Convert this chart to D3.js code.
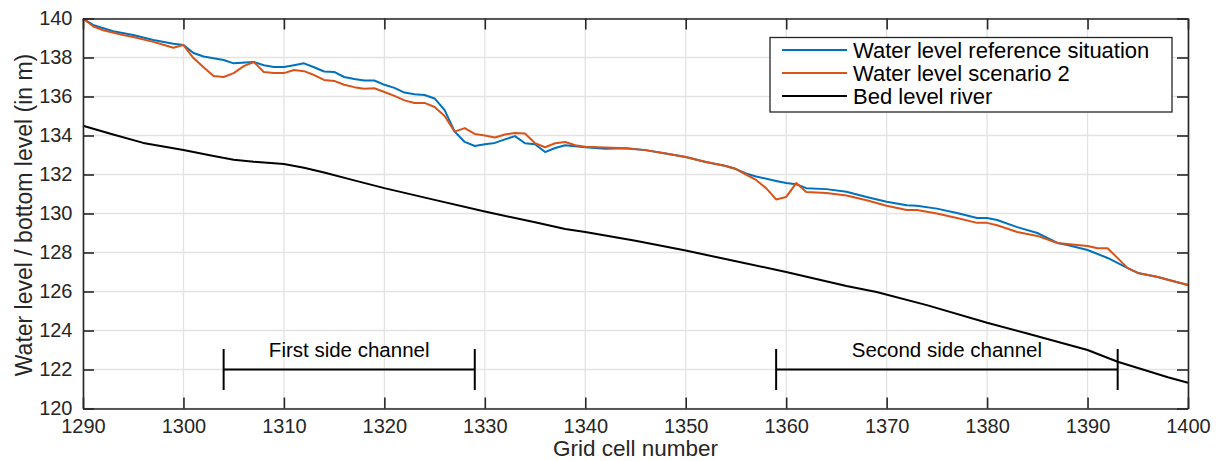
<!DOCTYPE html>
<html>
<head>
<meta charset="utf-8">
<script src="https://cdn.jsdelivr.net/npm/d3@7/dist/d3.min.js"></script>
<style>
  html, body { margin: 0; padding: 0; background: #fff; }
  svg { display: block; font-family: "Liberation Sans", Arial, Helvetica, sans-serif; }
</style>
</head>
<body>
<svg id="chart" width="1220" height="461"></svg>
<script>
// Grid cells and water levels along the river reach
const refX = [1290,1291,1293,1295,1297,1299,1300,1301,1302,1304,1305,1307,1308,1309,1310,1311,1312,1313,1314,1315,1316,1317,1318,1319,1320,1321,1322,1323,1324,1325,1326,1327,1328,1329,1330,1331,1332,1333,1334,1335,1336,1337,1338,1339,1340,1342,1344,1346,1348,1350,1352,1354,1355,1356,1357,1359,1360,1361,1362,1364,1366,1368,1370,1372,1373,1375,1377,1379,1380,1381,1383,1385,1387,1388,1390,1392,1394,1395,1397,1398,1400];
const refY = [140.0,139.67,139.35,139.15,138.9,138.7,138.64,138.23,138.05,137.87,137.7,137.77,137.6,137.51,137.51,137.6,137.7,137.5,137.28,137.26,137.0,136.9,136.82,136.82,136.6,136.44,136.2,136.12,136.08,135.9,135.3,134.2,133.67,133.46,133.55,133.62,133.8,133.97,133.6,133.55,133.15,133.36,133.5,133.45,133.4,133.32,133.35,133.25,133.08,132.9,132.64,132.44,132.28,132.05,131.9,131.67,131.56,131.5,131.3,131.25,131.12,130.85,130.6,130.42,130.4,130.25,130.03,129.77,129.77,129.67,129.3,129.0,128.49,128.38,128.13,127.72,127.2,126.95,126.74,126.6,126.33];

const scenX = [1290,1291,1292,1294,1295,1297,1298,1299,1300,1301,1302,1303,1304,1305,1306,1307,1308,1309,1310,1311,1312,1313,1314,1315,1316,1317,1318,1319,1320,1321,1322,1323,1324,1325,1326,1327,1328,1329,1330,1331,1332,1333,1334,1335,1336,1337,1338,1339,1340,1342,1344,1346,1348,1350,1352,1354,1355,1356,1357,1358,1359,1360,1361,1362,1364,1366,1368,1370,1372,1373,1375,1377,1379,1380,1381,1383,1385,1387,1388,1390,1391,1392,1394,1395,1397,1398,1400];
const scenY = [140.0,139.6,139.4,139.15,139.05,138.8,138.65,138.5,138.64,137.97,137.5,137.05,137.0,137.2,137.56,137.77,137.26,137.2,137.2,137.36,137.3,137.1,136.85,136.8,136.6,136.48,136.4,136.42,136.23,136.03,135.8,135.67,135.67,135.46,135.0,134.2,134.38,134.08,134.0,133.9,134.05,134.13,134.1,133.6,133.4,133.6,133.67,133.5,133.42,133.38,133.35,133.25,133.08,132.9,132.64,132.44,132.28,132.0,131.72,131.3,130.72,130.85,131.56,131.1,131.05,130.92,130.68,130.4,130.18,130.18,130.0,129.77,129.52,129.52,129.4,129.05,128.85,128.49,128.44,128.33,128.22,128.22,127.2,126.95,126.74,126.6,126.33];

const bedX = [1290,1293,1296,1300,1303,1305,1307,1310,1312,1314,1317,1320,1325,1330,1335,1338,1340,1345,1350,1355,1360,1366,1369,1374,1380,1384,1390,1393,1398,1400];
const bedY = [134.5,134.05,133.62,133.26,132.95,132.76,132.65,132.54,132.35,132.1,131.7,131.3,130.7,130.1,129.55,129.2,129.05,128.6,128.1,127.55,127.0,126.28,125.97,125.3,124.4,123.85,123.0,122.4,121.6,121.32];

const seriesNames = ["Water level reference situation", "Water level scenario 2", "Bed level river"];
const seriesColors = ["#0072BD", "#D95319", "#000000"];

// Side channel extents (grid cells) and labels
const channelNames = ["First side channel", "Second side channel"];
const channelStart = [1304, 1359];
const channelEnd = [1329, 1393];
const channelLevel = 122;

const xTicks = d3.range(1290, 1401, 10);
const yTicks = d3.range(120, 141, 2);

const svg = d3.select("#chart");
const plotL = 83, plotR = 1188, plotT = 18.5, plotB = 408.5;
const x = d3.scaleLinear().domain([1290, 1400]).range([plotL, plotR]);
const y = d3.scaleLinear().domain([120, 140]).range([plotB, plotT]);
const axisColor = "#262626";

// grid
const grid = svg.append("g");
grid.selectAll(".gx").data(xTicks).join("line")
  .attr("x1", d => x(d)).attr("x2", d => x(d))
  .attr("y1", plotT).attr("y2", plotB)
  .attr("stroke", "#e3e3e3").attr("stroke-width", 1.3);
grid.selectAll(".gy").data(yTicks).join("line")
  .attr("x1", plotL).attr("x2", plotR)
  .attr("y1", d => y(d)).attr("y2", d => y(d))
  .attr("stroke", "#e3e3e3").attr("stroke-width", 1.3);

// data lines
const series = [[refX, refY], [scenX, scenY], [bedX, bedY]];
const line = d3.line().x(d => x(d[0])).y(d => y(d[1]));
svg.append("g").selectAll("path").data([2, 0, 1]).join("path")
  .attr("d", i => line(series[i][0].map((v, k) => [v, series[i][1][k]])))
  .attr("fill", "none")
  .attr("stroke", i => seriesColors[i])
  .attr("stroke-width", 2)
  .attr("stroke-linejoin", "round");

// side channel brackets
const br = svg.append("g").attr("stroke", "#000").attr("stroke-width", 2);
channelNames.forEach((name, i) => {
  br.append("line").attr("x1", x(channelStart[i])).attr("x2", x(channelEnd[i]))
    .attr("y1", y(channelLevel)).attr("y2", y(channelLevel));
  [channelStart[i], channelEnd[i]].forEach(v => {
    br.append("line").attr("x1", x(v)).attr("x2", x(v))
      .attr("y1", y(channelLevel + 1.05)).attr("y2", y(channelLevel - 1.05));
  });
  svg.append("text")
    .attr("x", x((channelStart[i] + channelEnd[i]) / 2))
    .attr("y", y(channelLevel) - 13)
    .attr("text-anchor", "middle")
    .attr("font-size", 20.5).attr("fill", "#000")
    .text(name);
});

// axes (boxed, ticks pointing inward)
const tickLen = 11;
const fmt = d3.format("d");
const xAxisB = d3.axisBottom(x).tickValues(xTicks).tickFormat(fmt).tickSize(-tickLen).tickSizeOuter(0).tickPadding(10.5);
const xAxisT = d3.axisTop(x).tickValues(xTicks).tickSize(-tickLen).tickSizeOuter(0).tickFormat("");
const yAxisL = d3.axisLeft(y).tickValues(yTicks).tickFormat(fmt).tickSize(-tickLen).tickSizeOuter(0).tickPadding(10.5);
const yAxisR = d3.axisRight(y).tickValues(yTicks).tickSize(-tickLen).tickSizeOuter(0).tickFormat("");

function styleAxis(g) {
  g.select(".domain").attr("stroke", axisColor).attr("stroke-width", 1.6);
  g.selectAll(".tick line").attr("stroke", axisColor).attr("stroke-width", 1.6);
  g.selectAll(".tick text").attr("fill", axisColor).attr("font-size", 20)
    .attr("font-family", "Liberation Sans, Arial, sans-serif");
}
svg.append("g").attr("transform", `translate(0,${plotB})`).call(xAxisB).call(styleAxis);
svg.append("g").attr("transform", `translate(0,${plotT})`).call(xAxisT).call(styleAxis);
svg.append("g").attr("transform", `translate(${plotL},0)`).call(yAxisL).call(styleAxis);
svg.append("g").attr("transform", `translate(${plotR},0)`).call(yAxisR).call(styleAxis);

// axis titles
svg.append("text")
  .attr("x", (plotL + plotR) / 2).attr("y", 456)
  .attr("text-anchor", "middle").attr("font-size", 22.5).attr("fill", axisColor)
  .text("Grid cell number");
svg.append("text")
  .attr("transform", `translate(31.5,${(plotT + plotB) / 2 + 1.5}) rotate(-90)`)
  .attr("text-anchor", "middle").attr("font-size", 23).attr("fill", axisColor)
  .text("Water level / bottom level (in m)");

// legend
const lg = svg.append("g");
lg.append("rect").attr("x", 770).attr("y", 37.5).attr("width", 402).attr("height", 74.5)
  .attr("fill", "#fff").attr("stroke", axisColor).attr("stroke-width", 1.3);
seriesNames.forEach((name, i) => {
  const yy = 50 + i * 23;
  lg.append("line").attr("x1", 782).attr("x2", 847).attr("y1", yy).attr("y2", yy)
    .attr("stroke", seriesColors[i]).attr("stroke-width", 2);
  lg.append("text").attr("x", 853).attr("y", yy).attr("dy", "0.35em")
    .attr("font-size", 22).attr("fill", "#000").text(name);
});
</script>
</body>
</html>
